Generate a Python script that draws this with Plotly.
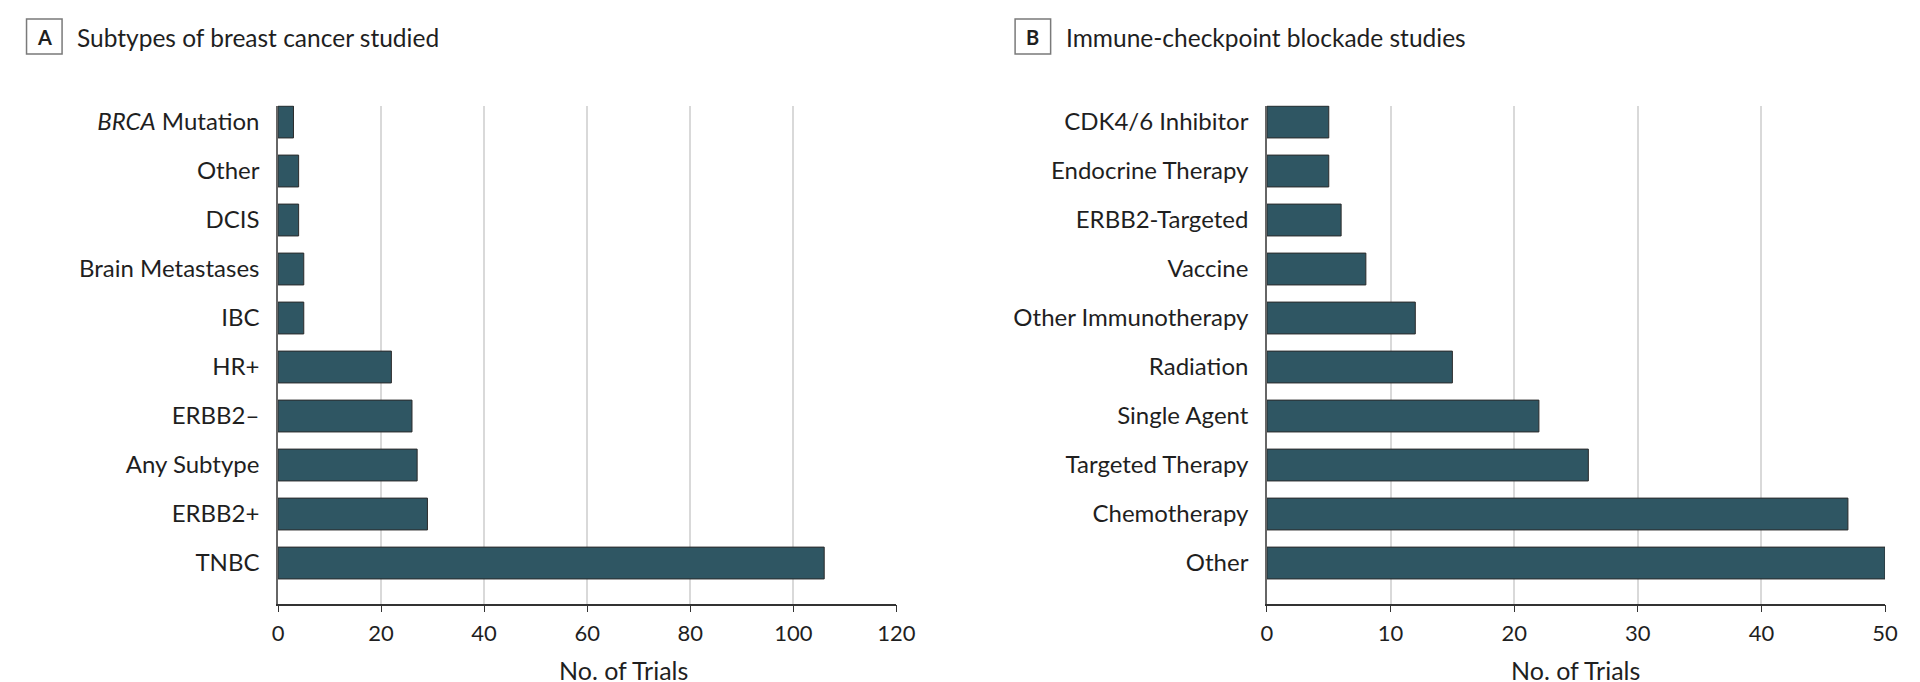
import plotly.graph_objects as go

# ---- data ----
subtypes = ["<i>BRCA</i> Mutation", "Other", "DCIS", "Brain Metastases", "IBC",
            "HR+", "ERBB2\u2013", "Any Subtype", "ERBB2+", "TNBC"]
subtype_trials = [3, 4, 4, 5, 5, 22, 26, 27, 29, 106]

combos = ["CDK4/6 Inhibitor", "Endocrine Therapy", "ERBB2-Targeted", "Vaccine",
          "Other Immunotherapy", "Radiation", "Single Agent", "Targeted Therapy",
          "Chemotherapy", "Other"]
combo_trials = [5, 5, 6, 8, 12, 15, 22, 26, 47, 50]

xticks_a = [0, 20, 40, 60, 80, 100, 120]
xticks_b = [0, 10, 20, 30, 40, 50]

panel_titles = ["Subtypes of breast cancer studied", "Immune-checkpoint blockade studies"]
panel_letters = ["A", "B"]
x_title = "No. of Trials"

# ---- style ----
W, H = 1920, 682
FONT = "Lato"
TXT = "#1f1f1f"
BAR = "#2f5663"
BAR_LINE = "#2b2b2b"
GRID = "#d9d9d9"

fig = go.Figure()
fig.add_trace(go.Bar(x=subtype_trials, y=subtypes, orientation="h", width=0.65,
                     marker=dict(color=BAR, line=dict(color=BAR_LINE, width=1)),
                     xaxis="x", yaxis="y", showlegend=False, hoverinfo="x+y"))
fig.add_trace(go.Bar(x=combo_trials, y=combos, orientation="h", width=0.65,
                     marker=dict(color=BAR, line=dict(color=BAR_LINE, width=1)),
                     xaxis="x2", yaxis="y2", showlegend=False, hoverinfo="x+y"))

y_top = 1 - 97.5 / H
y_bot = 1 - 595.7 / H
dom_a = [267.5 / W, 894.0 / W]
dom_b = [1269.5 / W, 1895.7 / W]
yrange = [9.83, -0.337]

def xaxis(dom, rng, ticks, anchor):
    return dict(domain=dom, range=rng, tickvals=ticks, anchor=anchor,
                showgrid=True, gridcolor=GRID, gridwidth=1.5, zeroline=False,
                showline=True, linecolor="#333333", linewidth=1.5,
                ticks="outside", ticklen=7, tickwidth=1.2, tickcolor="#333333",
                tickfont=dict(family=FONT, size=22, color=TXT),
                ticklabelstandoff=2, fixedrange=True)

def yaxis(anchor, cats):
    return dict(domain=[y_bot, y_top], range=yrange, type="category",
                categoryorder="array", categoryarray=cats, anchor=anchor,
                showgrid=False, zeroline=False,
                showline=True, linecolor="#666666", linewidth=1.5,
                ticks="", tickfont=dict(family=FONT, size=24, color=TXT),
                ticklabelstandoff=12, fixedrange=True)

fig.update_layout(
    width=W, height=H,
    margin=dict(l=0, r=0, t=0, b=0),
    paper_bgcolor="white", plot_bgcolor="white",
    bargap=0.35,
    xaxis=xaxis(dom_a, [0, 120], xticks_a, "y"),
    yaxis=yaxis("x", subtypes),
    xaxis2=xaxis(dom_b, [0, 50], xticks_b, "y2"),
    yaxis2=yaxis("x2", combos),
)

annotations = []
shapes = []
box_lefts = [12.7, 1014.3]
title_lefts = [62.0, 1064.0]
xtitle_centers = [617.5, 1582.5]
for letter, title, bl, tl, xc in zip(panel_letters, panel_titles, box_lefts, title_lefts, xtitle_centers):
    shapes.append(dict(type="rect", xref="paper", yref="paper",
                       x0=bl / W, x1=(bl + 36) / W, y0=1 - 46 / H, y1=1 - 11 / H,
                       line=dict(color="#7a7a7a", width=1.5), fillcolor="white"))
    annotations.append(dict(text="<b>" + letter + "</b>", xref="paper", yref="paper",
                            x=(bl + 18) / W, y=1 - 29.5 / H, xanchor="center", yanchor="middle",
                            showarrow=False, font=dict(family=FONT, size=20, color=TXT)))
    annotations.append(dict(text=title, xref="paper", yref="paper",
                            x=tl / W, y=1 - 30 / H, xanchor="left", yanchor="middle",
                            showarrow=False, font=dict(family=FONT, size=24.5, color=TXT)))
    annotations.append(dict(text=x_title, xref="paper", yref="paper",
                            x=xc / W, y=1 - 662 / H, xanchor="center", yanchor="middle",
                            showarrow=False, font=dict(family=FONT, size=25, color=TXT)))

fig.update_layout(annotations=annotations, shapes=shapes)
fig.write_html("out.html")
